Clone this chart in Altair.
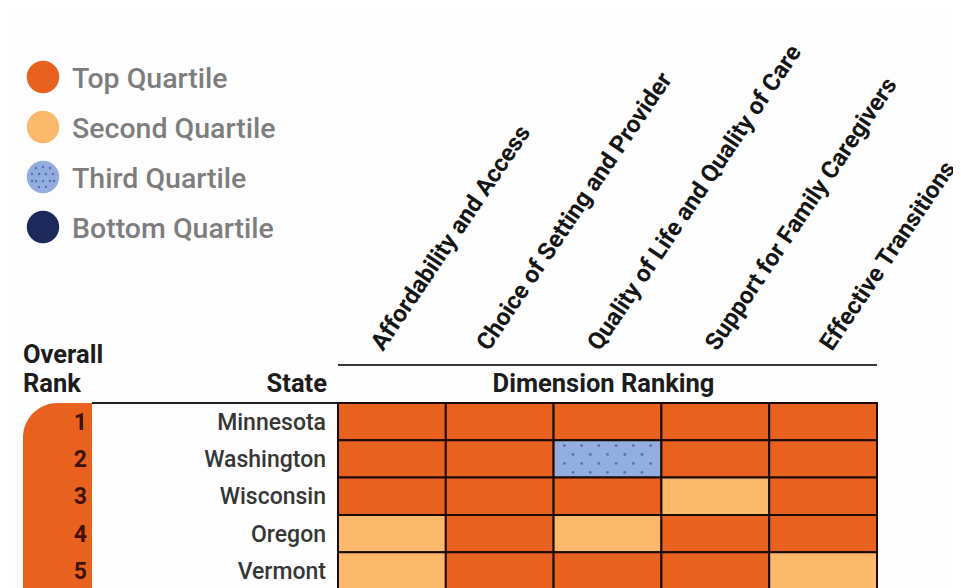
import altair as alt
import pandas as pd

# ---------------- data ----------------
dimensions = [
    "Affordability and Access",
    "Choice of Setting and Provider",
    "Quality of Life and Quality of Care",
    "Support for Family Caregivers",
    "Effective Transitions",
]
states = ["Minnesota", "Washington", "Wisconsin", "Oregon", "Vermont"]
ranks = [1, 2, 3, 4, 5]
quartile_labels = ["Top Quartile", "Second Quartile", "Third Quartile", "Bottom Quartile"]
quartile_colors = ["#e8611f", "#fdb96b", "#93addf", "#1b2a5b"]
# quartile index per state across dimensions (0=Top, 1=Second, 2=Third, 3=Bottom)
q_minnesota = [0, 0, 0, 0, 0]
q_washington = [0, 0, 2, 0, 0]
q_wisconsin = [0, 0, 0, 1, 0]
q_oregon = [1, 0, 1, 0, 0]
q_vermont = [1, 0, 0, 0, 1]
quartiles = [q_minnesota, q_washington, q_wisconsin, q_oregon, q_vermont]

# ---------------- layout ----------------
W, H = 945, 580
GX0, CW = 330.0, 107.8      # grid left (plot px), column width
GY0, RH = 395.0, 37.3       # grid top (plot px), row height
ORANGE = quartile_colors[0]
FONT = "Roboto"
LABEL_SHIFT = [-9, -11, -8, 2, 9]   # small horizontal nudges of the slanted headers (px)


def px2x(p):
    return (p - 8 - GX0) / CW


def px2y(p):
    return (p - 8 - GY0) / RH


xs = alt.Scale(domain=[-GX0 / CW, (W - GX0) / CW], nice=False, zero=False)
ys = alt.Scale(domain=[-GY0 / RH, (H - GY0) / RH], nice=False, zero=False, reverse=True)
cscale = alt.Scale(domain=quartile_labels, range=quartile_colors)

X = lambda f: alt.X(f, type="quantitative", scale=xs, axis=None)
X2 = lambda f: alt.X2(f)
Y = lambda f: alt.Y(f, type="quantitative", scale=ys, axis=None)
Y2 = lambda f: alt.Y2(f)

# cells
cells = []
for r, (st, qs) in enumerate(zip(states, quartiles)):
    for c, q in enumerate(qs):
        cells.append({"state": st, "dim": dimensions[c], "c": c, "c2": c + 1,
                      "r": r, "r2": r + 1, "q": quartile_labels[q]})
cells_df = pd.DataFrame(cells)

cell_layer = alt.Chart(cells_df).mark_rect(stroke="#1a0c04", strokeWidth=2, clip=True).encode(
    x=X("c"), x2=X2("c2"), y=Y("r"), y2=Y2("r2"),
    color=alt.Color("q:N", scale=cscale, legend=None),
)

# dotted texture for third quartile cells
dots = []
for cell in cells:
    if cell["q"] == quartile_labels[2]:
        for i, fy in enumerate([0.14, 0.38, 0.62, 0.86]):
            fxs = [0.1, 0.26, 0.42, 0.58, 0.74, 0.9] if i % 2 == 0 else [0.18, 0.34, 0.5, 0.66, 0.82]
            for fx in fxs:
                dots.append({"x": cell["c"] + fx, "y": cell["r"] + fy})
dot_layer = alt.Chart(pd.DataFrame(dots)).mark_point(
    filled=True, size=8, color="#5068a6", opacity=0.85).encode(x=X("x"), y=Y("y"))

# rank column shape
rank_shape = alt.Chart(pd.DataFrame([{"x": px2x(23), "x2": px2x(92), "y": 0, "y2": len(states) + 1}])).mark_rect(
    color=ORANGE, cornerRadiusTopLeft=60, clip=True).encode(
    x=X("x"), x2=X2("x2"), y=Y("y"), y2=Y2("y2"))

rows_df = pd.DataFrame({"state": states, "rank": [str(v) for v in ranks],
                        "r": [i + 0.5 for i in range(len(states))],
                        "xr": px2x(87), "xs": px2x(326)})
rank_text = alt.Chart(rows_df).mark_text(
    align="right", baseline="middle", font=FONT, fontSize=23, fontWeight="bold", color="#3f1206", dy=1).encode(
    x=X("xr"), y=Y("r"), text="rank:N")
state_text = alt.Chart(rows_df).mark_text(
    align="right", baseline="middle", font=FONT, fontSize=23, fontWeight=500, color="#363636", dy=1).encode(
    x=X("xs"), y=Y("r"), text="state:N")

# lines
top_line = alt.Chart(pd.DataFrame([{"x": px2x(92), "x2": 0, "y": 0}])).mark_rule(
    color="#222222", strokeWidth=2).encode(x=X("x"), x2=X2("x2"), y=Y("y"))
dim_line = alt.Chart(pd.DataFrame([{"x": 0, "x2": len(dimensions), "y": px2y(365)}])).mark_rule(
    color="#3a3a3a", strokeWidth=2).encode(x=X("x"), x2=X2("x2"), y=Y("y"))

# rotated dimension labels
dim_df = pd.DataFrame({"dim": dimensions,
                       "x": [i + 0.5 + s / CW for i, s in enumerate(LABEL_SHIFT)],
                       "y": px2y(352)})
dim_text = alt.Chart(dim_df).mark_text(
    align="left", baseline="alphabetic", angle=304, font=FONT, fontSize=24,
    fontWeight="bold", color="#151515").encode(x=X("x"), y=Y("y"), text="dim:N")

# headers
hl = pd.DataFrame([{"t": "Overall", "x": px2x(23), "y": px2y(363)},
                   {"t": "Rank", "x": px2x(23), "y": px2y(392)}])
hr = pd.DataFrame([{"t": "State", "x": px2x(327), "y": px2y(392)}])
hc = pd.DataFrame([{"t": "Dimension Ranking", "x": len(dimensions) / 2 - 4 / CW, "y": px2y(392)}])
hstyle = dict(baseline="alphabetic", font=FONT, fontSize=25.5, fontWeight="bold", color="#1c1c1c")
head_l = alt.Chart(hl).mark_text(align="left", **hstyle).encode(x=X("x"), y=Y("y"), text="t:N")
head_r = alt.Chart(hr).mark_text(align="right", **hstyle).encode(x=X("x"), y=Y("y"), text="t:N")
head_c = alt.Chart(hc).mark_text(align="center", **hstyle).encode(x=X("x"), y=Y("y"), text="t:N")

# legend
leg_df = pd.DataFrame({"q": quartile_labels,
                       "x": px2x(43), "xt": px2x(72),
                       "y": [px2y(77 + 50 * i) for i in range(4)]})
leg_pts = alt.Chart(leg_df).mark_point(filled=True, size=1050, opacity=1, shape="circle").encode(
    x=X("x"), y=Y("y"), color=alt.Color("q:N", scale=cscale, legend=None))
ldots = []
for fx, fy in [(-7, -9), (0, -10), (7, -9), (-11, -3), (-4, -3), (3, -3), (10, -3),
               (-7, 4), (0, 4), (7, 4), (-11, 4), (11, 4), (-4, 10), (3, 10)]:
    ldots.append({"x": px2x(43 + fx), "y": px2y(77 + 100 + fy)})
leg_dots = alt.Chart(pd.DataFrame(ldots)).mark_point(
    filled=True, size=6, color="#5068a6", opacity=0.85).encode(x=X("x"), y=Y("y"))
leg_text = alt.Chart(leg_df).mark_text(
    align="left", baseline="middle", font=FONT, fontSize=28.5, fontWeight=500, color="#7d7d7d", dy=2).encode(
    x=X("xt"), y=Y("y"), text="q:N")

chart = alt.layer(
    rank_shape, cell_layer, dot_layer, rank_text, state_text, top_line, dim_line,
    dim_text, head_l, head_r, head_c, leg_pts, leg_dots, leg_text,
).properties(
    width=W, height=H, autosize=alt.AutoSizeParams(type="none"), padding=0,
    background="#fdfdfd",
).configure_view(stroke=None)

chart.save("out.html", embed_options={"renderer": "svg", "actions": False})
